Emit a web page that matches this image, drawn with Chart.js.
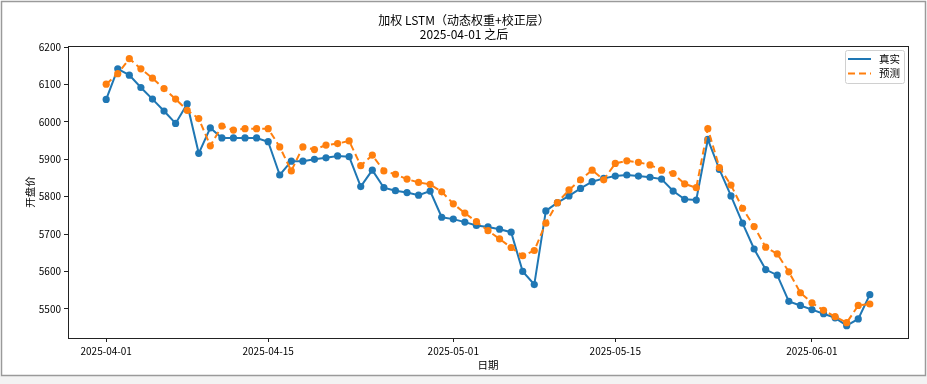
<!DOCTYPE html>
<html>
<head>
<meta charset="utf-8">
<script src="https://cdn.jsdelivr.net/npm/chart.js@4.4.1/dist/chart.umd.min.js"></script>
<style>
  html, body { margin: 0; padding: 0; background: #fff; }
  #wrap { width: 927px; height: 384px; }
</style>
</head>
<body>
<div id="wrap"><canvas id="c" width="927" height="384"></canvas></div>
<script>
const titleLines = ['加权 LSTM（动态权重+校正层）', '2025-04-01 之后'];
const xTitle = '日期';
const yTitle = '开盘价';
const seriesNames = ['真实', '预测'];

const dates = [
  '2025-04-01','2025-04-02','2025-04-03','2025-04-04','2025-04-05','2025-04-06','2025-04-07','2025-04-08','2025-04-09','2025-04-10',
  '2025-04-11','2025-04-12','2025-04-13','2025-04-14','2025-04-15','2025-04-16','2025-04-17','2025-04-18','2025-04-19','2025-04-20',
  '2025-04-21','2025-04-22','2025-04-23','2025-04-24','2025-04-25','2025-04-26','2025-04-27','2025-04-28','2025-04-29','2025-04-30',
  '2025-05-01','2025-05-02','2025-05-03','2025-05-04','2025-05-05','2025-05-06','2025-05-07','2025-05-08','2025-05-09','2025-05-10',
  '2025-05-11','2025-05-12','2025-05-13','2025-05-14','2025-05-15','2025-05-16','2025-05-17','2025-05-18','2025-05-19','2025-05-20',
  '2025-05-21','2025-05-22','2025-05-23','2025-05-24','2025-05-25','2025-05-26','2025-05-27','2025-05-28','2025-05-29','2025-05-30',
  '2025-05-31','2025-06-01','2025-06-02','2025-06-03','2025-06-04','2025-06-05','2025-06-06'
];

const actual = [
  6060, 6142, 6125, 6092, 6061, 6029, 5996, 6048, 5916, 5984,
  5957, 5957, 5957, 5957, 5947, 5858, 5895, 5895, 5900, 5904,
  5909, 5907, 5827, 5871, 5824, 5816, 5811, 5804, 5815, 5745,
  5740, 5732, 5723, 5719, 5713, 5705, 5600, 5565, 5762, 5784,
  5802, 5822, 5840, 5849, 5855, 5858, 5855, 5852, 5847, 5815,
  5793, 5791, 5953, 5873, 5802, 5729, 5660, 5605, 5590, 5520,
  5509, 5498, 5487, 5476, 5455, 5473, 5538
];

const predicted = [
  6101, 6129, 6169, 6142, 6117, 6089, 6061, 6031, 6009, 5936,
  5989, 5978, 5982, 5982, 5982, 5933, 5869, 5933, 5926, 5938,
  5942, 5949, 5883, 5911, 5869, 5860, 5847, 5838, 5833, 5813,
  5781, 5756, 5733, 5709, 5687, 5664, 5642, 5656, 5729, 5784,
  5818, 5845, 5871, 5845, 5889, 5896, 5892, 5885, 5871, 5862,
  5834, 5824, 5982, 5878, 5831, 5769, 5720, 5665, 5647, 5599,
  5543, 5516, 5496, 5479, 5463, 5509, 5513
];

const xTickLabels = ['2025-04-01', '2025-04-15', '2025-05-01', '2025-05-15', '2025-06-01'];
const yTickValues = [5500, 5600, 5700, 5800, 5900, 6000, 6100, 6200];

const DAY = 86400000;
const t0 = Date.parse(dates[0] + 'T00:00:00Z');
const dayOf = s => (Date.parse(s + 'T00:00:00Z') - t0) / DAY;
const xTickDays = xTickLabels.map(dayOf);
const labelByDay = {};
xTickLabels.forEach((s, i) => { labelByDay[xTickDays[i]] = s; });

const toPts = arr => arr.map((v, i) => ({ x: dayOf(dates[i]), y: v }));

const BLUE = '#1f77b4', ORANGE = '#ff7f0e';
const FONT = "'Noto Sans CJK SC', 'Liberation Sans', sans-serif";

const framePlugin = {
  id: 'frame',
  beforeDraw(chart) {
    const ctx = chart.ctx;
    ctx.save();
    ctx.fillStyle = '#ffffff';
    ctx.fillRect(0, 0, chart.width, chart.height);
    ctx.fillStyle = '#f3f3f3';
    ctx.fillRect(0, 376, chart.width, chart.height - 376);
    ctx.strokeStyle = '#9a9a9a';
    ctx.lineWidth = 1.5;
    ctx.strokeRect(1.5, 1.5, chart.width - 3, 374);
    ctx.restore();
  },
  afterDatasetsDraw(chart) {
    const {ctx, chartArea: a} = chart;
    ctx.save();
    ctx.strokeStyle = '#222';
    ctx.lineWidth = 1;
    ctx.strokeRect(Math.round(a.left) + 0.5, Math.round(a.top) + 0.5,
                   Math.round(a.right - a.left), Math.round(a.bottom - a.top));
    ctx.restore();
  },
  afterDraw(chart) {
    const ctx = chart.ctx;
    const a = chart.chartArea;
    const bx = a.right - 63, by = a.top + 4, bw = 59, bh = 33;
    ctx.save();
    ctx.fillStyle = 'rgba(255,255,255,0.85)';
    ctx.strokeStyle = '#d0d0d0';
    ctx.lineWidth = 1;
    ctx.beginPath();
    ctx.roundRect(bx + 0.5, by + 0.5, bw, bh, 2);
    ctx.fill();
    ctx.stroke();
    const items = chart.data.datasets;
    items.forEach((ds, i) => {
      const y = by + 9 + i * 14.5;
      ctx.strokeStyle = ds.borderColor;
      ctx.lineWidth = 2;
      ctx.setLineDash(ds.borderDash || []);
      ctx.beginPath();
      ctx.moveTo(bx + 3, y);
      ctx.lineTo(bx + 26, y);
      ctx.stroke();
      ctx.setLineDash([]);
      ctx.fillStyle = '#000';
      ctx.font = '10.5px ' + FONT;
      ctx.textBaseline = 'middle';
      ctx.textAlign = 'left';
      ctx.fillText(ds.label, bx + 34, y);
    });
    ctx.restore();
  }
};

new Chart(document.getElementById('c'), {
  type: 'line',
  data: {
    datasets: [
      {
        label: seriesNames[0],
        data: toPts(actual),
        borderColor: BLUE,
        backgroundColor: BLUE,
        borderWidth: 2,
        pointRadius: 3.6,
        pointBorderWidth: 0,
        pointBackgroundColor: BLUE,
        tension: 0,
        order: 1
      },
      {
        label: seriesNames[1],
        data: toPts(predicted),
        borderColor: ORANGE,
        backgroundColor: ORANGE,
        borderWidth: 2,
        borderDash: [7, 4],
        pointRadius: 3.6,
        pointBorderWidth: 0,
        pointBackgroundColor: ORANGE,
        tension: 0,
        order: 0
      }
    ]
  },
  options: {
    responsive: false,
    animation: false,
    events: [],
    layout: { padding: { top: 0, left: 20, right: 19, bottom: 6 } },
    plugins: {
      legend: { display: false },
      tooltip: { enabled: false },
      title: {
        display: true,
        text: titleLines,
        color: '#000',
        font: { family: FONT, size: 12, weight: 'normal', lineHeight: 14 / 12 },
        padding: { top: 13, bottom: 5 }
      }
    },
    scales: {
      x: {
        type: 'linear',
        min: -3.3,
        max: 69.3,
        afterBuildTicks: s => { s.ticks = xTickDays.map(v => ({ value: v })); },
        afterFit: s => { s.height = 40; },
        ticks: {
          autoSkip: false,
          maxRotation: 0,
          color: '#000',
          font: { family: FONT, size: 10 },
          padding: 3,
          callback: v => labelByDay[v] || ''
        },
        grid: { display: true, drawOnChartArea: false, drawTicks: true, tickLength: 4, color: '#222' },
        border: { display: false },
        title: {
          display: true,
          text: xTitle,
          color: '#000',
          font: { family: FONT, size: 10.5 },
          padding: { top: 0, bottom: 7 }
        }
      },
      y: {
        type: 'linear',
        min: 5422,
        max: 6203,
        afterBuildTicks: s => { s.ticks = yTickValues.map(v => ({ value: v })); },
        afterFit: s => { s.width = 48; },
        ticks: {
          color: '#000',
          font: { family: FONT, size: 10 },
          padding: 3,
          callback: v => String(v)
        },
        grid: { display: true, drawOnChartArea: false, drawTicks: true, tickLength: 4, color: '#222' },
        border: { display: false },
        title: {
          display: true,
          text: yTitle,
          color: '#000',
          font: { family: FONT, size: 10.5 },
          padding: { top: 4, bottom: 4 }
        }
      }
    }
  },
  plugins: [framePlugin]
});
</script>
</body>
</html>
